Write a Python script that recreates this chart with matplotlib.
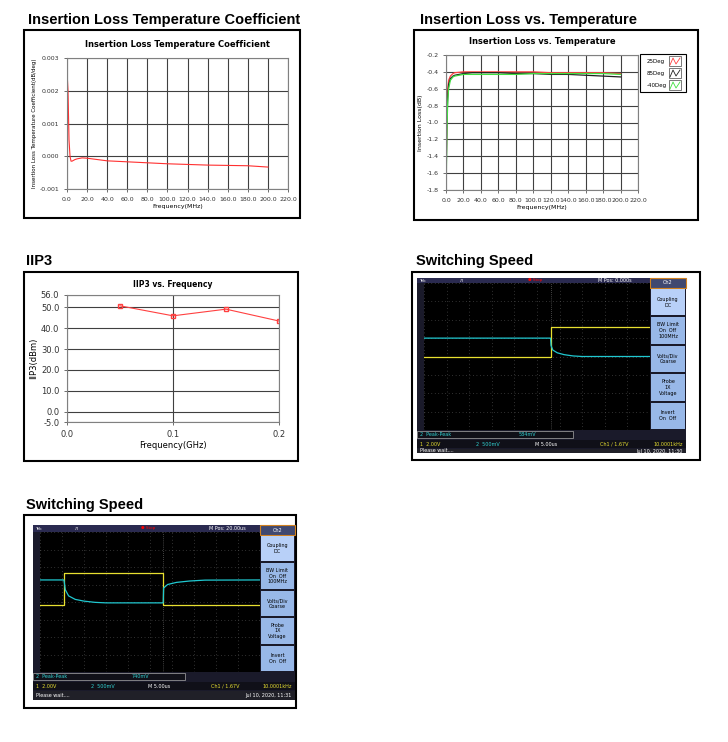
import matplotlib
matplotlib.use("Agg")
import matplotlib.pyplot as plt
from matplotlib.patches import Rectangle
import numpy as np

W, H = 728, 742
DPI = 100

# ---------------- data ----------------
tc_freq = [0.5, 1, 2, 3, 4, 5, 8, 10, 15, 20, 30, 40, 60, 80, 100, 120, 140, 160, 180, 200]
tc_vals = [0.0023, 0.0020, 0.0005, 0.0000, -0.00015, -0.00015, -0.0001, -0.00008, -0.00005, -0.00006,
           -0.0001, -0.00014, -0.00017, -0.0002, -0.00023, -0.00025, -0.00027, -0.00028, -0.00029, -0.00033]

il_freq = [0.3, 1, 2, 3, 5, 8, 10, 15, 20, 30, 40, 60, 80, 100, 120, 140, 160, 180, 200]
il_25 = [-1.5, -0.9, -0.6, -0.5, -0.45, -0.42, -0.41, -0.405, -0.40, -0.40, -0.40, -0.40, -0.40, -0.40, -0.41, -0.41, -0.41, -0.41, -0.42]
il_85 = [-1.6, -1.0, -0.7, -0.55, -0.48, -0.45, -0.44, -0.43, -0.42, -0.41, -0.41, -0.41, -0.42, -0.42, -0.43, -0.43, -0.44, -0.45, -0.46]
il_m40 = [-1.7, -1.1, -0.75, -0.6, -0.5, -0.46, -0.45, -0.44, -0.43, -0.43, -0.43, -0.43, -0.43, -0.42, -0.42, -0.42, -0.42, -0.42, -0.43]
il_labels = ["25Deg", "85Deg", "-40Deg"]

iip3_freq = [0.05, 0.1, 0.15, 0.2]
iip3_vals = [50.8, 46.0, 49.2, 43.5]

# scope 1 (divisions)
s1_y_t = [0, 5.6, 5.6, 10]
s1_y_v = [4.0, 4.0, 5.6, 5.6]
s1_c_t = [0, 5.6, 5.62, 5.7, 5.9, 6.2, 6.6, 7.0, 10]
s1_c_v = [5.0, 5.0, 4.6, 4.35, 4.2, 4.1, 4.03, 4.0, 4.0]
s1_texts = dict(pk="584mV", mpos="M Pos: 0.000s", time="Jul 10, 2020, 11:30")

# scope 2 (divisions)
s2_y_t = [0, 1.09, 1.09, 5.6, 5.6, 10]
s2_y_v = [3.83, 3.83, 5.66, 5.66, 3.83, 3.83]
s2_c_t = [0, 1.09, 1.15, 1.3, 1.6, 2.0, 2.5, 3.0, 5.6, 5.62, 5.8, 6.2, 6.8, 7.5, 10]
s2_c_v = [5.26, 5.26, 4.7, 4.35, 4.15, 4.05, 3.98, 3.95, 3.95, 4.8, 5.0, 5.12, 5.2, 5.25, 5.26]
s2_texts = dict(pk="740mV", mpos="M Pos: 20.00us", time="Jul 10, 2020, 11:31")

# ---------------- helpers ----------------
fig = plt.figure(figsize=(W / DPI, H / DPI), dpi=DPI)
ov = fig.add_axes([0, 0, 1, 1])
ov.set_xlim(0, W); ov.set_ylim(H, 0); ov.axis("off")

def pax(x0, y0, x1, y1, z=2):
    a = fig.add_axes([x0 / W, 1 - y1 / H, (x1 - x0) / W, (y1 - y0) / H])
    a.set_zorder(z)
    return a

def rect(x0, y0, x1, y1, fc="none", ec="none", lw=1, z=1):
    ov.add_patch(Rectangle((x0, y0), x1 - x0, y1 - y0, fc=fc, ec=ec, lw=lw, zorder=z))

def style_ni(a, title):
    a.set_facecolor("white")
    a.grid(True, color="#404040", lw=0.8)
    for s in a.spines.values():
        s.set_color("#808080"); s.set_linewidth(0.8)
    a.tick_params(labelsize=4.5, length=2, width=0.5, colors="#333333")
    a.set_title(title, fontsize=6, fontweight="bold", pad=8)

# ---------------- section titles ----------------
for x, y, t in [(28, 20, "Insertion Loss Temperature Coefficient"), (420, 20, "Insertion Loss vs. Temperature"),
                (26, 261, "IIP3"), (416, 261, "Switching Speed"), (26, 505, "Switching Speed")]:
    ov.text(x, y, t, fontsize=10.5, fontweight="bold", va="center", ha="left", family="Liberation Sans")

# panel borders
rect(24, 30, 300, 218, ec="black", lw=1.5)
rect(414, 30, 698, 220, ec="black", lw=1.5)
rect(24, 272, 298, 461, ec="black", lw=1.5)
rect(412, 272, 700, 460, ec="black", lw=1.5)
rect(24, 515, 296, 708, ec="black", lw=1.5)

# ---------------- panel 1 ----------------
a1 = pax(67, 58, 288, 189)
style_ni(a1, "Insertion Loss Temperature Coefficient")
a1.plot(tc_freq, tc_vals, color="#ff3030", lw=0.8)
a1.set_xlim(0, 220); a1.set_ylim(-0.001, 0.003)
a1.set_xticks(np.arange(0, 221, 20)); a1.set_xticklabels([f"{v:.1f}" for v in np.arange(0, 221, 20)])
a1.set_yticks([-0.001, 0, 0.001, 0.002, 0.003]); a1.set_yticklabels(["-0.001", "0.000", "0.001", "0.002", "0.003"])
a1.set_xlabel("Frequency(MHz)", fontsize=4.5, labelpad=2)
a1.set_ylabel("Insertion Loss Temperature Coefficient(dB/deg)", fontsize=4, labelpad=2)

# ---------------- panel 2 ----------------
a2 = pax(446, 55, 638, 190)
style_ni(a2, "Insertion Loss vs. Temperature")
cols = ["#ff4040", "#202020", "#40e040"]
for v, c in zip([il_25, il_85, il_m40], cols):
    a2.plot(il_freq, v, color=c, lw=0.9)
a2.set_xlim(0, 220); a2.set_ylim(-1.8, -0.2)
a2.set_xticks(np.arange(0, 221, 20)); a2.set_xticklabels([f"{v:.1f}" for v in np.arange(0, 221, 20)])
a2.set_yticks(np.arange(-1.8, -0.19, 0.2)); a2.set_yticklabels([f"{v:.1f}" for v in np.arange(-1.8, -0.19, 0.2)])
a2.set_xlabel("Frequency(MHz)", fontsize=4.5, labelpad=2)
a2.set_ylabel("Insertion Loss(dB)", fontsize=4.5, labelpad=2)
rect(640, 54, 686, 92, fc="white", ec="black", lw=0.8, z=3)
for i, (lab, c) in enumerate(zip(il_labels, cols)):
    yy = 61 + i * 12
    ov.text(647, yy, lab, fontsize=4, va="center", zorder=4)
    rect(669, yy - 5, 681, yy + 5, fc="white", ec="#444444", lw=0.5, z=4)
    ov.plot([670, 673, 676, 680], [yy + 4, yy - 3, yy + 3, yy - 3], color=c, lw=0.6, zorder=5)

# ---------------- panel 3 ----------------
a3 = pax(67, 295, 279, 422)
style_ni(a3, "IIP3 vs. Frequency")
a3.grid(True, axis="y", color="#404040", lw=0.8)
a3.plot(iip3_freq, iip3_vals, color="#ff4040", lw=0.8, marker="s", ms=2.5, mfc="none")
a3.set_xlim(0, 0.2); a3.set_ylim(-5, 56)
a3.set_xticks([0, 0.1, 0.2]); a3.set_xticklabels(["0.0", "0.1", "0.2"])
a3.set_yticks([-5, 0, 10, 20, 30, 40, 50, 56]); a3.set_yticklabels(["-5.0", "0.0", "10.0", "20.0", "30.0", "40.0", "50.0", "56.0"])
a3.tick_params(labelsize=6)
a3.set_xlabel("Frequency(GHz)", fontsize=6, labelpad=2)
a3.set_ylabel("IIP3(dBm)", fontsize=6, labelpad=2)
a3.set_title("IIP3 vs. Frequency", fontsize=5.5, fontweight="bold", pad=6)

# ---------------- scopes ----------------
def scope(x0, y0, x1, y1, gx0, gy0, gx1, gy1, px1, yt, yv, ct, cv, tx):
    rect(x0, y0, x1, y1, fc="#1a1a2a", z=1)
    rect(x0, y0, px1, gy0, fc="#2a2a50", z=2)
    ov.text(x0 + 2, (y0 + gy0) / 2, "Tek", fontsize=3, color="white", va="center", zorder=3)
    ov.text(x0 + (gx1 - gx0) * 0.19, (y0 + gy0) / 2, "Л", fontsize=3, color="white", va="center", zorder=3)
    ov.text(gx0 + (gx1 - gx0) * 0.46, (y0 + gy0) / 2, "● Stop", fontsize=3, color="red", va="center", zorder=3)
    ov.text(gx0 + (gx1 - gx0) * 0.77, (y0 + gy0) / 2, tx["mpos"], fontsize=3.5, color="white", va="center", zorder=3)
    a = pax(gx0, gy0, gx1, gy1, z=3)
    a.set_facecolor("black")
    a.set_xlim(0, 10); a.set_ylim(0, 8)
    a.set_xticks(range(11)); a.set_yticks(range(9))
    a.grid(True, color="#606060", lw=0.5, ls=(0, (1, 4)))
    a.axvline(5.6, color="#808080", lw=0.5, ls=(0, (1, 2)))
    a.tick_params(length=0, labelbottom=False, labelleft=False)
    for s in a.spines.values():
        s.set_visible(False)
    a.plot(yt, yv, color="#e8e030", lw=0.9)
    a.plot(ct, cv, color="#20c8d0", lw=0.9)
    # side panel
    pw = x1 - px1
    rect(px1, y0, x1, y0 + 10, fc="#404870", ec="#d08020", lw=0.8, z=2)
    ov.text((px1 + x1) / 2, y0 + 5, "Ch2", fontsize=3.5, color="white", ha="center", va="center", zorder=3)
    labels = ["Coupling\nDC", "BW Limit\nOn  Off\n100MHz", "Volts/Div\nCoarse", "Probe\n1X\nVoltage", "Invert\nOn  Off"]
    bh = (gy1 - y0 - 10) / 5
    for i, lab in enumerate(labels):
        by = y0 + 10 + i * bh
        rect(px1 + 1, by + 1, x1 - 1, by + bh - 1, fc="#b8d0f8" if i == 0 else "#98b8e8", z=2)
        ov.text((px1 + x1) / 2, by + bh / 2, lab, fontsize=3.5, ha="center", va="center", zorder=3, linespacing=1.2)
    # bottom bars
    rect(x0, gy1 + 1, gx0 + (gx1 - gx0) * 0.66, gy1 + 8, fc="#101018", ec="#aaaaaa", lw=0.5, z=2)
    ov.text(x0 + 3, gy1 + 4.5, "2  Peak-Peak", fontsize=3.5, color="#30d0d0", va="center", zorder=3)
    ov.text(x0 + (gx1 - gx0) * 0.45, gy1 + 4.5, tx["pk"], fontsize=3.5, color="#30d0d0", va="center", zorder=3)
    ry = gy1 + 10
    rect(x0, ry, x1, ry + 8, fc="#101018", z=2)
    ov.text(x0 + 3, ry + 4, "1  2.00V", fontsize=3.5, color="#e8e030", va="center", zorder=3)
    ov.text(x0 + (x1 - x0) * 0.22, ry + 4, "2  500mV", fontsize=3.5, color="#30d0d0", va="center", zorder=3)
    ov.text(x0 + (x1 - x0) * 0.44, ry + 4, "M 5.00us", fontsize=3.5, color="white", va="center", zorder=3)
    ov.text(x0 + (x1 - x0) * 0.68, ry + 4, "Ch1 ∕ 1.67V", fontsize=3.5, color="#e8e030", va="center", zorder=3)
    ov.text(x1 - 3, ry + 4, "10.0001kHz", fontsize=3.5, color="#e8e030", va="center", ha="right", zorder=3)
    rect(x0, ry + 9, x1, y1, fc="#202028", z=2)
    ov.text(x0 + 3, (ry + 9 + y1) / 2, "Please wait....", fontsize=3.5, color="white", va="center", zorder=3)
    ov.text(x1 - 3, (ry + 9 + y1) / 2, tx["time"], fontsize=3.5, color="white", va="center", ha="right", zorder=3)

scope(417, 278, 686, 453, 424, 283, 650, 430, 650, s1_y_t, s1_y_v, s1_c_t, s1_c_v, s1_texts)
scope(33, 525, 295, 700, 40, 532, 260, 672, 260, s2_y_t, s2_y_v, s2_c_t, s2_c_v, s2_texts)

fig.savefig("out.png", dpi=DPI)
